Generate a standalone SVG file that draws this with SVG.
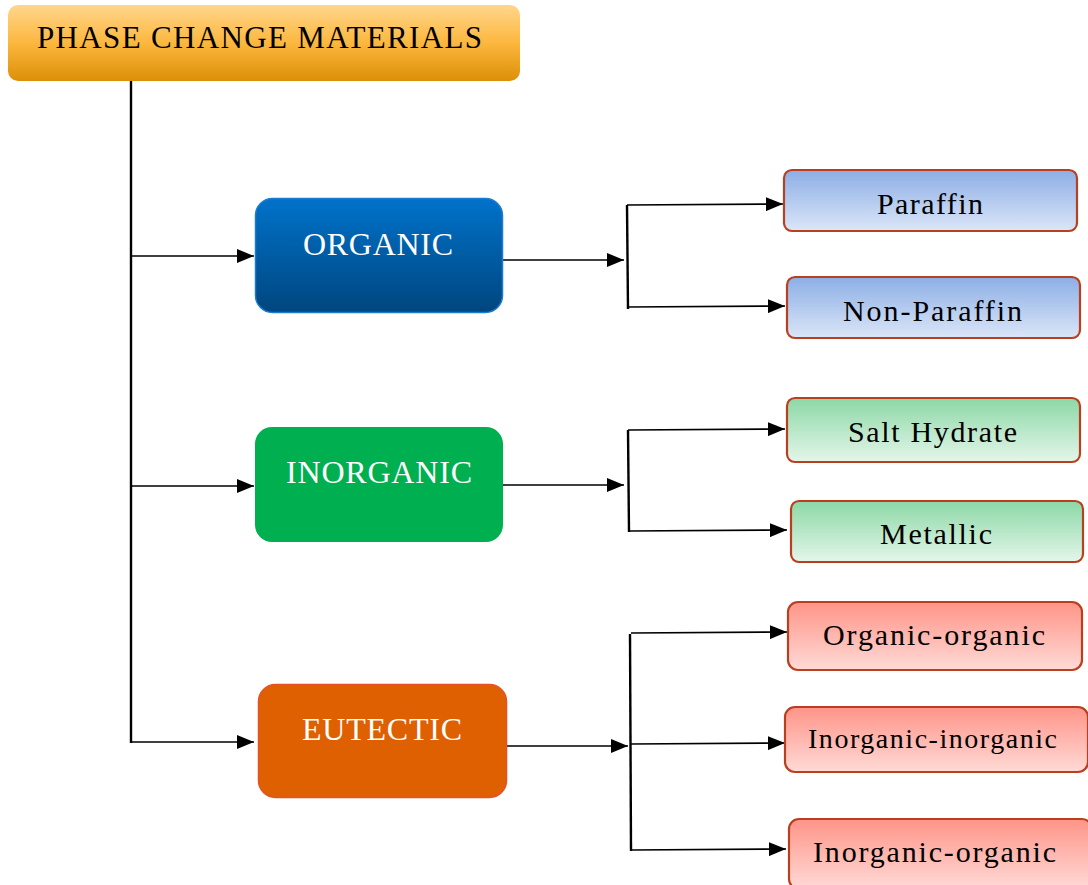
<svg xmlns="http://www.w3.org/2000/svg" width="1088" height="885" viewBox="0 0 1088 885">
  <style>
    .lbl { font-family: "Liberation Serif", "Times New Roman", serif; }
    .dark { fill: #000; }
    .light { fill: #fff; }
    .wire { fill: none; stroke: #000; stroke-width: 1.6; }
    .trunk { fill: none; stroke: #000; stroke-width: 2.4; }
    .leaf { stroke: #B8401F; stroke-width: 2.2; }
  </style>
  <defs>
    <linearGradient id="gTitle" x1="0" y1="0" x2="0" y2="1">
      <stop offset="0" stop-color="#FFD68C"/>
      <stop offset="0.5" stop-color="#FCB73E"/>
      <stop offset="1" stop-color="#DC8F08"/>
    </linearGradient>
    <linearGradient id="gBlue" x1="0" y1="0" x2="0" y2="1">
      <stop offset="0" stop-color="#0072CA"/>
      <stop offset="1" stop-color="#00467F"/>
    </linearGradient>
    <linearGradient id="gLeafBlue" x1="0" y1="0" x2="0" y2="1">
      <stop offset="0" stop-color="#8CAEE6"/>
      <stop offset="1" stop-color="#DBE6F7"/>
    </linearGradient>
    <linearGradient id="gLeafGreen" x1="0" y1="0" x2="0" y2="1">
      <stop offset="0" stop-color="#8CD8A6"/>
      <stop offset="1" stop-color="#E4F6EA"/>
    </linearGradient>
    <linearGradient id="gLeafRed" x1="0" y1="0" x2="0" y2="1">
      <stop offset="0" stop-color="#FF9488"/>
      <stop offset="1" stop-color="#FFDAD6"/>
    </linearGradient>
    <marker id="arrow" markerUnits="userSpaceOnUse" markerWidth="18" markerHeight="14" refX="17" refY="7" orient="auto">
      <path d="M0,0 L17,7 L0,14 Z" fill="#000"/>
    </marker>
  </defs>

  <!-- connectors -->
  <g id="connectors">
    <!-- main trunk -->
    <line class="trunk" x1="131" y1="81" x2="131" y2="743"/>
    <line class="wire" x1="131" y1="256" x2="254" y2="256" marker-end="url(#arrow)"/>
    <line class="wire" x1="131" y1="486" x2="254" y2="486" marker-end="url(#arrow)"/>
    <line class="wire" x1="131" y1="742" x2="254" y2="742" marker-end="url(#arrow)"/>

    <!-- organic fan-out -->
    <line class="wire" x1="503" y1="260" x2="624" y2="260" marker-end="url(#arrow)"/>
    <line class="trunk" x1="627" y1="205" x2="628" y2="309"/>
    <line class="wire" x1="627" y1="205" x2="783" y2="204" marker-end="url(#arrow)"/>
    <line class="wire" x1="628" y1="307" x2="785" y2="306" marker-end="url(#arrow)"/>

    <!-- inorganic fan-out -->
    <line class="wire" x1="503" y1="485" x2="624" y2="485" marker-end="url(#arrow)"/>
    <line class="trunk" x1="628" y1="430" x2="629" y2="532"/>
    <line class="wire" x1="628" y1="430" x2="785" y2="429" marker-end="url(#arrow)"/>
    <line class="wire" x1="629" y1="531" x2="787" y2="530" marker-end="url(#arrow)"/>

    <!-- eutectic fan-out -->
    <line class="wire" x1="507" y1="746" x2="628" y2="746" marker-end="url(#arrow)"/>
    <line class="trunk" x1="630" y1="634" x2="631" y2="851"/>
    <line class="wire" x1="631" y1="633" x2="787" y2="632" marker-end="url(#arrow)"/>
    <line class="wire" x1="631" y1="744" x2="785" y2="743" marker-end="url(#arrow)"/>
    <line class="wire" x1="631" y1="850" x2="786" y2="849" marker-end="url(#arrow)"/>
  </g>

  <!-- root -->
  <g id="node-pcm">
    <rect x="8" y="5" width="512" height="76" rx="10" fill="url(#gTitle)"/>
    <text class="lbl dark" x="37" y="48" font-size="31" textLength="445" lengthAdjust="spacing">PHASE CHANGE MATERIALS</text>
  </g>

  <!-- categories -->
  <g id="node-organic">
    <rect x="255.5" y="198.5" width="247" height="114" rx="17" fill="url(#gBlue)" stroke="#1C7DD0" stroke-width="1.5"/>
    <text class="lbl light" x="303" y="255" font-size="32" textLength="150" lengthAdjust="spacing">ORGANIC</text>
  </g>
  <g id="node-inorganic">
    <rect x="255" y="427" width="248" height="115" rx="17" fill="#00B050"/>
    <text class="lbl light" x="286" y="483" font-size="32" textLength="186" lengthAdjust="spacing">INORGANIC</text>
  </g>
  <g id="node-eutectic">
    <rect x="258.5" y="684.5" width="248" height="113" rx="17" fill="#DE6000" stroke="#E8502A" stroke-width="1.5"/>
    <text class="lbl light" x="302" y="740" font-size="32" textLength="160" lengthAdjust="spacing">EUTECTIC</text>
  </g>

  <!-- organic leaves -->
  <g id="node-paraffin">
    <rect class="leaf" x="784" y="170" width="293" height="61" rx="8" fill="url(#gLeafBlue)"/>
    <text class="lbl dark" x="877" y="214" font-size="30" textLength="106" lengthAdjust="spacing">Paraffin</text>
  </g>
  <g id="node-non-paraffin">
    <rect class="leaf" x="787" y="277" width="293" height="61" rx="8" fill="url(#gLeafBlue)"/>
    <text class="lbl dark" x="843" y="321" font-size="30" textLength="179" lengthAdjust="spacing">Non-Paraffin</text>
  </g>

  <!-- inorganic leaves -->
  <g id="node-salt-hydrate">
    <rect class="leaf" x="787" y="398" width="293" height="64" rx="8" fill="url(#gLeafGreen)"/>
    <text class="lbl dark" x="848" y="442" font-size="30" textLength="169" lengthAdjust="spacing">Salt Hydrate</text>
  </g>
  <g id="node-metallic">
    <rect class="leaf" x="791" y="501" width="292" height="61" rx="8" fill="url(#gLeafGreen)"/>
    <text class="lbl dark" x="880" y="544" font-size="30" textLength="112" lengthAdjust="spacing">Metallic</text>
  </g>

  <!-- eutectic leaves -->
  <g id="node-organic-organic">
    <rect class="leaf" x="788" y="602" width="294" height="68" rx="10" fill="url(#gLeafRed)"/>
    <text class="lbl dark" x="823" y="645" font-size="30" textLength="222" lengthAdjust="spacing">Organic-organic</text>
  </g>
  <g id="node-inorganic-inorganic">
    <rect class="leaf" x="785" y="707" width="303" height="65" rx="10" fill="url(#gLeafRed)"/>
    <text class="lbl dark" x="808" y="748" font-size="28" textLength="249" lengthAdjust="spacing">Inorganic-inorganic</text>
  </g>
  <g id="node-inorganic-organic">
    <rect class="leaf" x="789" y="819" width="303" height="70" rx="10" fill="url(#gLeafRed)"/>
    <text class="lbl dark" x="813" y="862" font-size="30" textLength="243" lengthAdjust="spacing">Inorganic-organic</text>
  </g>
</svg>
